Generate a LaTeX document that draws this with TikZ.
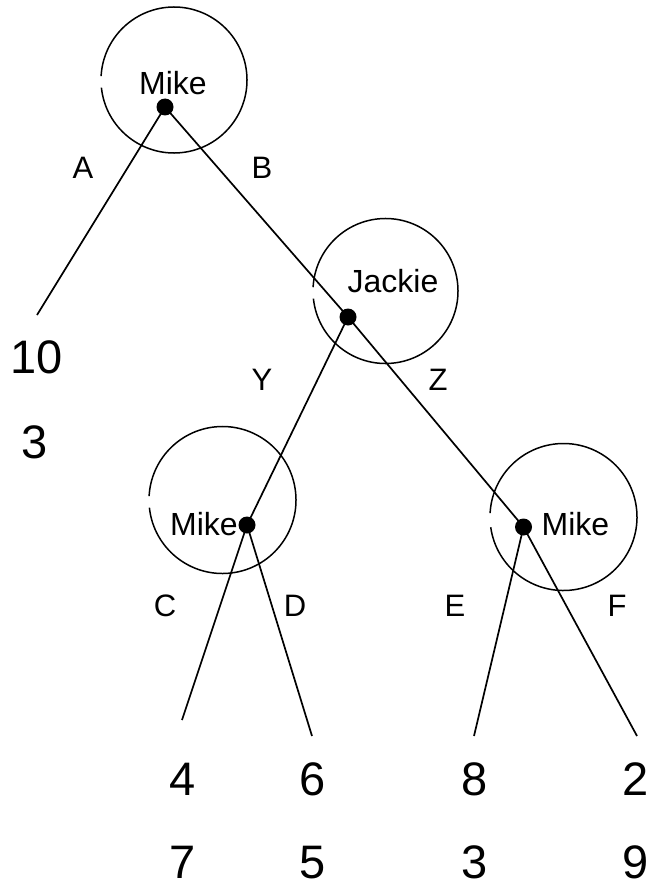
\documentclass[tikz,border=0pt]{standalone}
\usepackage{fontspec}
\setmainfont{Liberation Sans}
\begin{document}
\begin{tikzpicture}[x=1pt,y=1pt,
  line width=1.7pt,
  dot/.style={circle,fill=black,inner sep=0pt,minimum size=17pt},
  lbl/.style={anchor=base,inner sep=0pt,font=\fontsize{31}{36}\selectfont},
  nm/.style={anchor=base,inner sep=0pt,font=\fontsize{32}{38}\selectfont},
  num/.style={anchor=base,inner sep=0pt,font=\fontsize{47}{54}\selectfont},
  ring/.style={line width=1.5pt}]
\useasboundingbox (0,0) rectangle (651,-888);
% circle centres
\coordinate (c1) at (174,-80);
\coordinate (c2) at (385.5,-291);
\coordinate (c3) at (222.5,-500);
\coordinate (c4) at (563.5,-517);
\draw[ring] (c1) ++(186:73) arc (186:537:73);
\draw[ring] (c2) ++(186:72.5) arc (186:537:72.5);
\draw[ring] (c3) ++(186:73.5) arc (186:537:73.5);
\draw[ring] (c4) ++(188:73.5) arc (188:537:73.5);
% names
\node[nm] (n1) at (173,-95) {Mike};
\node[nm] (n2) at (393,-292) {Jackie};
\node[nm] (n3) at (204,-535) {Mike};
\node[nm] (n4) at (575.5,-535) {Mike};
% decision dots
\coordinate (r) at (165,-107);
\coordinate (j) at (348,-317);
\coordinate (m3) at (247,-525);
\coordinate (m4) at (523.5,-527);
% leaf ends
\coordinate (la) at (37,-315);
\coordinate (lc) at (182,-720);
\coordinate (ld) at (312,-736);
\coordinate (le) at (474,-736);
\coordinate (lf) at (637,-736);
% branches
\draw (r) -- (la);
\draw (r) -- (j);
\draw (j) -- (m3);
\draw (j) -- (m4);
\draw (m3) -- (lc);
\draw (m3) -- (ld);
\draw (m4) -- (le);
\draw (m4) -- (lf);
\node[dot] (dr) at (r) {};
\node[dot] (dj) at (j) {};
\node[dot] (d3) at (m3) {};
\node[dot] (d4) at (m4) {};
% branch labels
\node[lbl] (tA) at (83,-178) {A};
\node[lbl] (tB) at (262,-178) {B};
\node[lbl] (tY) at (262,-390) {Y};
\node[lbl] (tZ) at (438,-390) {Z};
\node[lbl] (tC) at (165,-616) {C};
\node[lbl] (tD) at (295,-616) {D};
\node[lbl] (tE) at (455,-616) {E};
\node[lbl] (tF) at (617,-616) {F};
% payoffs
\node[num] (p1a) at (37,-373) {10};
\node[num] (p1b) at (35,-458) {3};
\node[num] (p2a) at (182.5,-795) {4};
\node[num] (p2b) at (182.5,-878) {7};
\node[num] (p3a) at (312.5,-795) {6};
\node[num] (p3b) at (312.5,-878) {5};
\node[num] (p4a) at (474.5,-795) {8};
\node[num] (p4b) at (474.5,-878) {3};
\node[num] (p5a) at (636,-795) {2};
\node[num] (p5b) at (636,-878) {9};
\end{tikzpicture}
\end{document}
